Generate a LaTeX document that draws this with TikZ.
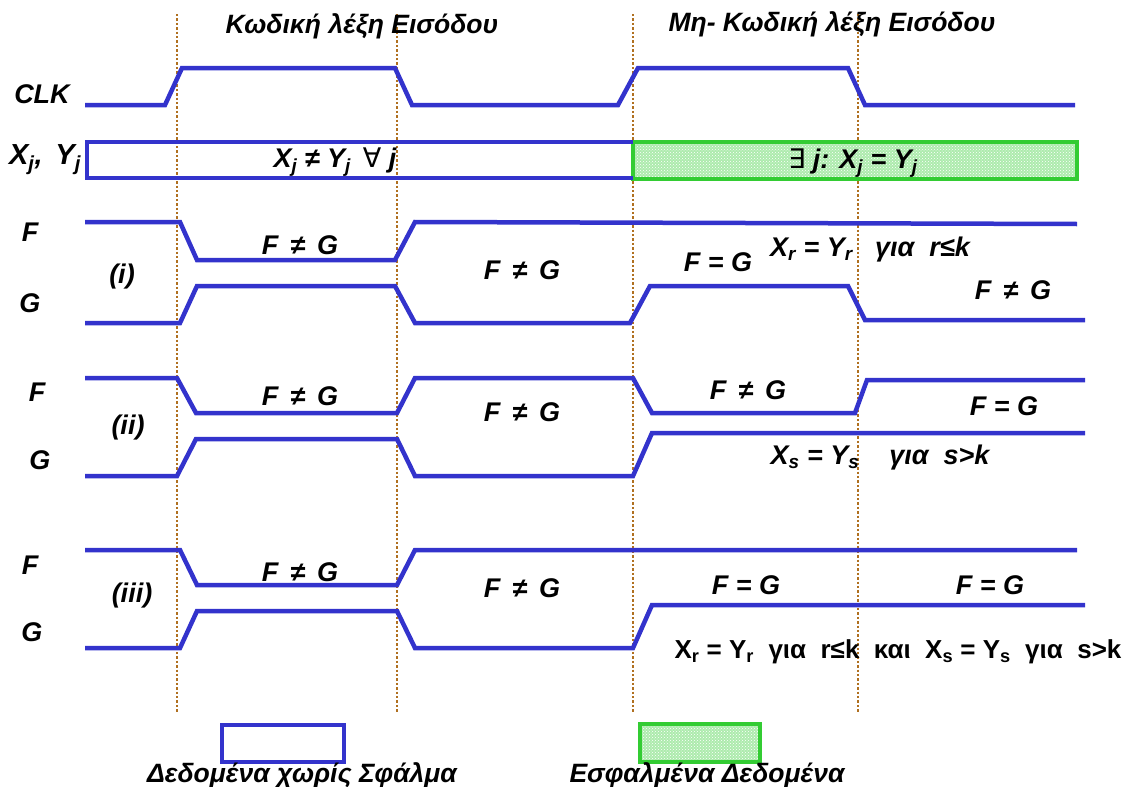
\documentclass[tikz,border=0pt]{standalone}
\usepackage{fontspec}
\setmainfont{Liberation Sans}
\newfontfamily\symbfont{DejaVu Sans}
\usetikzlibrary{patterns}

\definecolor{sigblue}{RGB}{51,51,204}
\definecolor{errgreen}{RGB}{51,204,51}
\definecolor{edgemark}{RGB}{176,112,32}

\tikzset{
  sig/.style={draw=sigblue, line width=4.5pt, line join=miter},
  mark line/.style={draw=edgemark, line width=2.4pt, dotted},
  lbl/.style={font=\bfseries\itshape\fontsize{27}{27}\selectfont, inner sep=0pt},
  ttl/.style={font=\bfseries\itshape\fontsize{26.5}{26.5}\selectfont, inner sep=0pt},
  errbox/.style={draw=errgreen, line width=4.5pt},
}

\begin{document}
\begin{tikzpicture}[x=1pt, y=-1pt]
\useasboundingbox (0,0) rectangle (1128,787);

% clock edges
\foreach \xe in {177,397,633,858}
  \draw[mark line] (\xe,14) -- (\xe,712);

% titles
\node[ttl] (t1) at (362,26) {Κωδική λέξη Εισόδου};
\node[ttl] (t2) at (832,24) {Μη- Κωδική λέξη Εισόδου};

% CLK
\node[lbl] (clk) at (42,94) {CLK};
\draw[sig] (85,105) -- (165,105) -- (182,68) -- (395,68) -- (412,105) -- (618,105)
  -- (638,68) -- (848,68) -- (865,105) -- (1075,105);

% inputs
\node[lbl, font=\bfseries\itshape\fontsize{29}{29}\selectfont] (xy) at (45,160) {X\textsubscript{j}, \,Y\textsubscript{j}};
\fill[errgreen!40] (633,142) rectangle (1077,179);
\fill[pattern=crosshatch dots, pattern color=white] (633,142) rectangle (1077,179);
\draw[errbox] (633,142) rectangle (1077,179);
\draw[sig] (633,142) -- (87,142) -- (87,178) -- (633,178);
\node[lbl] (neq) at (335,162) {X\textsubscript{j} ≠ Y\textsubscript{j} \,{\symbfont\mdseries\upshape ∀} j};
\node[lbl] (ex) at (853,163) {{\symbfont\mdseries\upshape ∃} j: X\textsubscript{j} = Y\textsubscript{j}};

% case (i)
\node[lbl] (f1) at (30,232) {F};
\node[lbl] (g1) at (30,303) {G};
\node[lbl] (c1) at (122,277) {(i)};
\draw[sig] (85,222) -- (180,222) -- (197,260) -- (395,260) -- (415,222) -- (1077,224);
\draw[sig] (85,323) -- (180,323) -- (197,286) -- (395,286) -- (415,323) -- (630,323)
  -- (650,286) -- (848,286) -- (865,320) -- (1085,320);
\node[lbl] (a1) at (300,245) {F \,≠ \,G};
\node[lbl] (b1) at (522,270) {F \,≠ \,G};
\node[lbl] (e1) at (718,262) {F = G};
\node[lbl] (r1) at (870,250) {X\textsubscript{r} = Y\textsubscript{r} \;\;για \;r≤k};
\node[lbl] (d1) at (1013,290) {F \,≠ \,G};

% case (ii)
\node[lbl] (f2) at (37,392) {F};
\node[lbl] (g2) at (40,460) {G};
\node[lbl] (c2) at (128,428) {(ii)};
\draw[sig] (85,378) -- (177,378) -- (196,413) -- (397,413) -- (415,378) -- (633,378)
  -- (652,413) -- (855,413) -- (867,380) -- (1085,380);
\draw[sig] (85,476) -- (177,476) -- (196,439) -- (397,439) -- (415,476) -- (633,476)
  -- (652,433) -- (1085,433);
\node[lbl] (a2) at (300,396) {F \,≠ \,G};
\node[lbl] (b2) at (522,412) {F \,≠ \,G};
\node[lbl] (e2) at (748,390) {F \,≠ \,G};
\node[lbl] (d2) at (1004,406) {F = G};
\node[lbl] (s2) at (880,458) {X\textsubscript{s} = Y\textsubscript{s} \;\;\;για \;s>k};

% case (iii)
\node[lbl] (f3) at (30,565) {F};
\node[lbl] (g3) at (32,632) {G};
\node[lbl] (c3) at (132,596) {(iii)};
\draw[sig] (85,550) -- (180,550) -- (197,585) -- (397,585) -- (415,550) -- (1077,550);
\draw[sig] (85,648) -- (180,648) -- (197,611) -- (397,611) -- (415,648) -- (633,648)
  -- (652,605) -- (1085,605);
\node[lbl] (a3) at (300,572) {F \,≠ \,G};
\node[lbl] (b3) at (522,588) {F \,≠ \,G};
\node[lbl] (e3) at (746,585) {F = G};
\node[lbl] (d3) at (990,585) {F = G};
\node[lbl, font=\bfseries\fontsize{26}{26}\selectfont] (rs3) at (898,652)
  {X\textsubscript{r} = Y\textsubscript{r} \;για \;r≤k \;και \;X\textsubscript{s} = Y\textsubscript{s} \;για \;s>k};

% legend
\draw[sig, line width=4pt] (222,725) rectangle (344,762);
\fill[errgreen!40] (640,724) rectangle (760,762);
\fill[pattern=crosshatch dots, pattern color=white] (640,724) rectangle (760,762);
\draw[errbox, line width=4pt] (640,724) rectangle (760,762);
\node[ttl] (ok) at (302,775) {Δεδομένα χωρίς Σφάλμα};
\node[ttl] (bad) at (707,775) {Εσφαλμένα Δεδομένα};
\end{tikzpicture}
\end{document}
